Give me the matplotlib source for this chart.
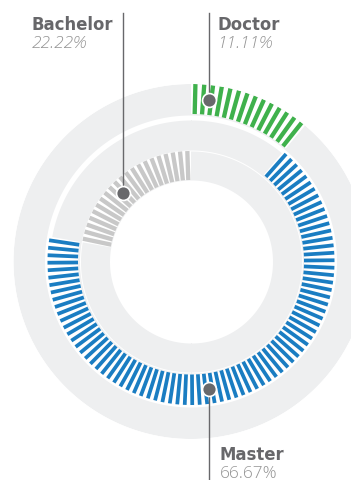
import numpy as np
import matplotlib
matplotlib.use("Agg")
import matplotlib.pyplot as plt

# degree shares, clockwise from 12 o'clock
categories = ["Doctor", "Master", "Bachelor"]
shares = [11.11, 66.67, 22.22]
pct_labels = ["11.11%", "66.67%", "22.22%"]

# styling per category (outer, middle, inner track)
colors = ["#3fb14c", "#1a7dc2", "#c8c8c8"]
track_bands = [(146, 177.5), (111.5, 141.5), (81.5, 110.5)]
tick_bands = [(147.5, 177.5), (113, 143.5), (81.5, 110.5)]
tick_counts = [14, 80, 21]
tick_widths = [3.1, 2.7, 3.1]
dot_angles = [6.3, 172.0, 315.2]
label_side = ["top", "bottom", "top"]
label_gap = [8.5, 11, None]

W, H = 351, 481
cx, cy, R = 191, 262.5, 177.5
bg = "#eeeff0"
dark = "#68686b"

fig = plt.figure(figsize=(W / 100, H / 100), dpi=100)
ax = fig.add_axes([(cx - R) / W, (H - cy - R) / H, 2 * R / W, 2 * R / H],
                  projection="polar")
ax.set_theta_zero_location("N")
ax.set_theta_direction(-1)
ax.set_ylim(0, R)
ax.set_axis_off()

full = np.linspace(0, 2 * np.pi, 400)
for r_in, r_out in track_bands:
    ax.fill_between(full, r_in, r_out, color=bg, lw=0)

start = 0.0
for i, share in enumerate(shares):
    span = share / 100 * 2 * np.pi
    r_in, r_out = tick_bands[i]
    ax.bar(start, r_out - r_in, width=span, bottom=r_in, align="edge",
           color="white", lw=0, zorder=2)
    n = tick_counts[i]
    th = start + span / n * (np.arange(n) + 0.5)
    ax.vlines(th, r_in, r_out, colors=colors[i], linewidth=tick_widths[i],
              capstyle="butt", zorder=3)
    start += span

# overlay in pixel coords for leaders and labels
ov = fig.add_axes([0, 0, 1, 1])
ov.set_xlim(0, W)
ov.set_ylim(H, 0)
ov.set_axis_off()
ov.patch.set_alpha(0)

fig.canvas.draw()
for i, cat in enumerate(categories):
    r_mid = sum(tick_bands[i]) / 2
    disp = ax.transData.transform((np.deg2rad(dot_angles[i]), r_mid))
    x, y = ov.transData.inverted().transform(disp)
    y_end = 14 if label_side[i] == "top" else H
    ov.plot([x, x], [y, y_end], color=dark, lw=1.0, zorder=2)
    ov.scatter([x], [y], s=100, color=dark, edgecolors="white",
               linewidths=1.2, zorder=3)

    base = 30 if label_side[i] == "top" else 460
    tx = 31.5 if label_gap[i] is None else x + label_gap[i]
    ov.text(tx, base, cat, ha="left", va="baseline", fontsize=11.9,
            fontweight="bold", color="#67676a", family="DejaVu Sans")
    ov.text(tx, base + 18.5, pct_labels[i], ha="left", va="baseline",
            fontsize=12.4, fontweight="light",
            style="normal" if cat == "Master" else "italic",
            color="#939393", family=["Open Sans", "DejaVu Sans"])

fig.savefig("out.png", dpi=100)
